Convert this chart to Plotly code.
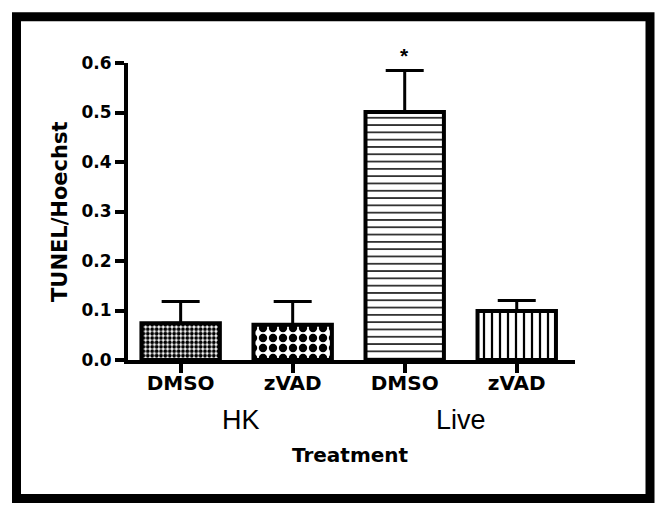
import plotly.graph_objects as go

# ---- data ----
positions = [0, 1, 2, 3]
tick_labels = ["DMSO", "zVAD", "DMSO", "zVAD"]
groups = ["HK", "Live"]
group_positions = [0.5, 2.5]
means = [0.074, 0.071, 0.501, 0.099]
sems = [0.044, 0.047, 0.084, 0.021]
y_ticks = [0.0, 0.1, 0.2, 0.3, 0.4, 0.5, 0.6]

# ---- layout geometry (pixels) ----
W, H = 663, 516
L, R, T, B = 128, 88, 63, 156
PW, PH = W - L - R, H - T - B


def px(x):
    return (x - L) / PW


def py(y):
    return (H - B - y) / PH


fig = go.Figure()
fig.add_trace(go.Bar(
    x=positions,
    y=means,
    width=0.7,
    marker=dict(
        color="white",
        line=dict(color="black", width=4),
        pattern=dict(
            shape=[".", ".", "-", "|"],
            size=[4.4, 10, 7.3, 8],
            solidity=[0.6, 0.55, 0.2, 0.28],
            fgcolor="black",
            bgcolor="white",
            fgopacity=1,
            fillmode="overlay",
        ),
    ),
    error_y=dict(
        type="data", symmetric=False, array=sems, arrayminus=[0, 0, 0, 0],
        color="black", thickness=3, width=19,
    ),
    showlegend=False,
))

fig.update_layout(
    width=W, height=H,
    margin=dict(l=L, r=R, t=T, b=B),
    paper_bgcolor="white", plot_bgcolor="white",
    bargap=0.3,
    xaxis=dict(
        range=[-0.47, 3.52], tickmode="array", tickvals=positions, ticktext=tick_labels,
        showline=True, linecolor="black", linewidth=4,
        ticks="outside", ticklen=9, tickwidth=4, tickcolor="black",
        ticklabelstandoff=-7,
        tickfont=dict(family="DejaVu Sans", size=20, color="black", weight="bold"),
        showgrid=False, zeroline=False, fixedrange=True,
    ),
    yaxis=dict(
        range=[0, 0.6], tickmode="array", tickvals=y_ticks, tickformat=".1f",
        showline=True, linecolor="black", linewidth=4,
        ticks="outside", ticklen=9, tickwidth=4, tickcolor="black",
        tickfont=dict(family="DejaVu Sans", size=17, color="black", weight="bold"),
        showgrid=False, zeroline=False, fixedrange=True,
    ),
)

annotations = []
for g, gx, sh in zip(groups, group_positions, [4, 0]):
    annotations.append(dict(
        x=gx, y=py(420), xref="x", yref="paper", text=g, showarrow=False,
        xanchor="center", yanchor="middle", xshift=sh,
        font=dict(family="Liberation Sans", size=27, color="black"),
    ))
annotations.append(dict(
    x=px(350), y=py(455), xref="paper", yref="paper", text="Treatment", showarrow=False,
    xanchor="center", yanchor="middle",
    font=dict(family="DejaVu Sans", size=20, color="black", weight="bold"),
))
annotations.append(dict(
    x=px(60), y=py(212), xref="paper", yref="paper", text="TUNEL/Hoechst", showarrow=False,
    xanchor="center", yanchor="middle", textangle=-90,
    font=dict(family="DejaVu Sans", size=21, color="black", weight="bold"),
))
annotations.append(dict(
    x=positions[2], y=means[2] + sems[2], xref="x", yref="y", text="*", showarrow=False,
    xanchor="center", yanchor="bottom", yshift=1,
    font=dict(family="Liberation Sans", size=21, color="black", weight="bold"),
))
fig.update_layout(annotations=annotations)

# outer frame
fig.add_shape(
    type="rect", xref="paper", yref="paper",
    x0=px(16.5), x1=px(650), y0=py(498.5), y1=py(16.8),
    line=dict(color="black", width=9), fillcolor="rgba(0,0,0,0)", layer="below",
)

fig.write_html("out.html", config={"displayModeBar": False},
               post_script="document.body.style.margin='0';")
